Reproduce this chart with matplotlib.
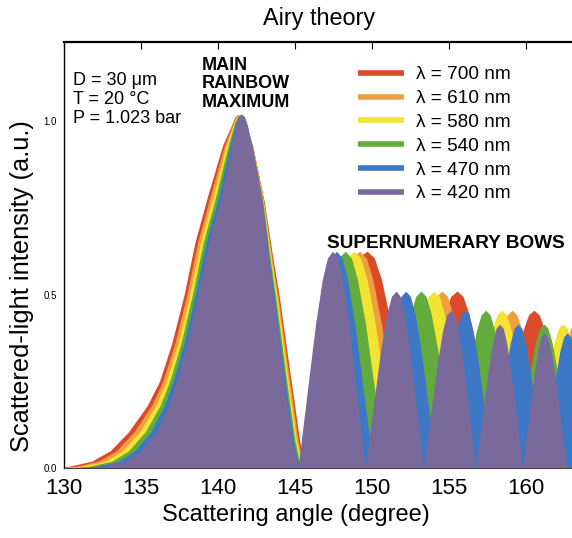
import matplotlib.pyplot as plt
from matplotlib.lines import Line2D

plt.rcParams["font.family"] = ["Liberation Sans", "DejaVu Sans"]

# Intensity (a.u.): main lobe rising, main lobe falling,
# then five supernumerary lobes (flank, flank, shoulder, shoulder, peak, ..., zero)
intensity = [
    0.0, 0.005, 0.02, 0.05, 0.105, 0.18, 0.25, 0.36, 0.5, 0.65, 0.78, 0.93, 0.99, 1.012, 1.02,
    1.012, 0.99, 0.93, 0.77, 0.61, 0.49, 0.33, 0.19, 0.08, 0.0,
    0.206, 0.413, 0.544, 0.606, 0.625, 0.606, 0.544, 0.413, 0.206, 0.0,
    0.168, 0.337, 0.444, 0.495, 0.51, 0.495, 0.444, 0.337, 0.168, 0.0,
    0.150, 0.300, 0.396, 0.441, 0.455, 0.441, 0.396, 0.300, 0.150, 0.0,
    0.137, 0.274, 0.361, 0.403, 0.415, 0.403, 0.361, 0.274, 0.137, 0.0,
    0.129, 0.257, 0.339, 0.378, 0.39, 0.378, 0.339, 0.257, 0.129, 0.0,
]

# Scattering angle (degree) of those points, one list per wavelength
angle_700 = [
    129.0, 130.3, 131.8, 133.0, 134.2, 135.4, 136.2, 137.0, 137.8, 138.5, 139.3, 140.3, 140.9, 141.1, 141.3,
    141.48, 141.75, 142.25, 143.0, 143.55, 144.0, 144.5, 144.95, 145.3, 145.65,
    146.66, 147.67, 148.47, 149.08, 149.68, 150.15, 150.62, 151.25, 152.03, 152.81,
    153.49, 154.17, 154.71, 155.12, 155.53, 155.92, 156.31, 156.84, 157.49, 158.14,
    158.74, 159.34, 159.81, 160.17, 160.53, 160.88, 161.23, 161.69, 162.27, 162.85,
    163.39,
]
angle_610 = [
    129.4, 130.74, 132.24, 133.4, 134.56, 135.68, 136.42, 137.2, 137.98, 138.68, 139.48, 140.42, 140.95, 141.15, 141.35,
    141.53, 141.78, 142.24, 142.97, 143.49, 143.92, 144.41, 144.85, 145.2, 145.56,
    146.47, 147.38, 148.11, 148.65, 149.2, 149.63, 150.06, 150.63, 151.35, 152.06,
    152.68, 153.31, 153.8, 154.18, 154.55, 154.91, 155.26, 155.74, 156.34, 156.93,
    157.48, 158.02, 158.46, 158.78, 159.11, 159.43, 159.75, 160.18, 160.71, 161.24,
    161.74, 162.23, 162.63, 162.92, 163.22,
]
angle_580 = [
    129.8, 131.18, 132.68, 133.8, 134.92, 135.96, 136.64, 137.4, 138.16, 138.86, 139.66, 140.54, 141.0, 141.2, 141.4,
    141.58, 141.81, 142.23, 142.94, 143.43, 143.84, 144.32, 144.75, 145.1, 145.47,
    146.32, 147.16, 147.84, 148.34, 148.85, 149.26, 149.68, 150.23, 150.92, 151.61,
    152.21, 152.82, 153.3, 153.66, 154.02, 154.37, 154.71, 155.17, 155.75, 156.32,
    156.85, 157.38, 157.8, 158.12, 158.44, 158.75, 159.06, 159.47, 159.98, 160.49,
    160.97, 161.45, 161.83, 162.12, 162.41, 162.69, 162.98, 163.36,
]
angle_540 = [
    130.2, 131.62, 133.12, 134.2, 135.28, 136.24, 136.86, 137.6, 138.34, 139.04, 139.84, 140.66, 141.05, 141.25, 141.45,
    141.63, 141.84, 142.22, 142.91, 143.37, 143.76, 144.23, 144.65, 145.0, 145.38,
    146.1, 146.83, 147.4, 147.84, 148.27, 148.66, 149.06, 149.59, 150.24, 150.9,
    151.47, 152.05, 152.5, 152.85, 153.19, 153.52, 153.85, 154.29, 154.83, 155.38,
    155.88, 156.39, 156.79, 157.09, 157.39, 157.68, 157.98, 158.37, 158.85, 159.34,
    159.8, 160.26, 160.62, 160.9, 161.17, 161.44, 161.71, 162.07, 162.51, 162.96,
    163.39,
]
angle_470 = [
    130.6, 132.06, 133.56, 134.6, 135.64, 136.52, 137.08, 137.8, 138.52, 139.22, 140.02, 140.78, 141.1, 141.3, 141.5,
    141.68, 141.87, 142.21, 142.88, 143.31, 143.68, 144.14, 144.55, 144.9, 145.29,
    145.89, 146.5, 146.98, 147.34, 147.7, 148.06, 148.42, 148.9, 149.5, 150.1,
    150.63, 151.15, 151.57, 151.89, 152.2, 152.5, 152.8, 153.2, 153.7, 154.2,
    154.66, 155.12, 155.49, 155.76, 156.04, 156.31, 156.57, 156.93, 157.38, 157.82,
    158.24, 158.66, 158.99, 159.24, 159.49, 159.74, 159.98, 160.31, 160.72, 161.13,
    161.52, 161.91, 162.22, 162.46, 162.69, 162.92, 163.15, 163.45, 163.84, 164.22,
]
angle_420 = [
    131.0, 132.5, 134.0, 135.0, 136.0, 136.8, 137.3, 138.0, 138.7, 139.4, 140.2, 140.9, 141.15, 141.35, 141.55,
    141.73, 141.9, 142.2, 142.85, 143.25, 143.6, 144.05, 144.45, 144.8, 145.2,
    145.76, 146.33, 146.78, 147.11, 147.45, 147.77, 148.08, 148.5, 149.03, 149.55,
    150.06, 150.56, 150.96, 151.27, 151.57, 151.84, 152.1, 152.46, 152.91, 153.35,
    153.79, 154.24, 154.59, 154.85, 155.12, 155.36, 155.61, 155.94, 156.34, 156.75,
    157.14, 157.53, 157.84, 158.07, 158.3, 158.53, 158.75, 159.05, 159.43, 159.8,
    160.15, 160.5, 160.78, 160.99, 161.2, 161.42, 161.64, 161.93, 162.29, 162.65,
]

wavelengths = ["700", "610", "580", "540", "470", "420"]
angles = [angle_700, angle_610, angle_580, angle_540, angle_470, angle_420]
colors = ["#dc4a2c", "#efa03e", "#f3e432", "#62ab3c", "#3c78c6", "#7a6a9c"]
x_ticks = [130, 135, 140, 145, 150, 155, 160]
y_ticks = [0.0, 0.5, 1.0]


def plot_rainbow():
    fig = plt.figure(figsize=(5.72, 5.38), dpi=100)
    ax = fig.add_axes([0.112, 0.130, 0.888, 0.792])

    # red first, violet last so the short wavelengths sit on top
    handles = []
    for wl, ang, col in zip(wavelengths, angles, colors):
        ax.fill_between(ang, 0, intensity[: len(ang)], color=col, linewidth=0)
        handles.append(Line2D([], [], color=col, linewidth=4, solid_capstyle="butt",
                              label="λ = " + wl + " nm"))

    ax.set_xlim(130, 163)
    ax.set_ylim(0, 1.228)
    ax.set_xticks(x_ticks)
    ax.set_yticks(y_ticks)
    ax.set_yticklabels(["0.0", "0.5", "1.0"], fontsize=7)
    ax.tick_params(axis="x", labelsize=16, bottom=False, top=True,
                   direction="in", length=5, pad=7)
    ax.tick_params(axis="y", length=0, pad=5)

    ax.spines["right"].set_visible(False)
    ax.spines["top"].set_linewidth(1.6)
    ax.spines["left"].set_linewidth(1.0)
    ax.spines["bottom"].set_color("#444444")

    fig.text(0.517, 0.043, "Scattering angle (degree)", fontsize=17,
             ha="center", va="center")
    fig.text(0.038, 0.468, "Scattered-light intensity (a.u.)", fontsize=18.3,
             ha="center", va="center", rotation=90)
    fig.text(0.557, 0.965, "Airy theory", fontsize=16.8, ha="center", va="center")

    # conditions of the computation
    ax.text(130.6, 1.118, "D = 30 μm", fontsize=13, va="center")
    ax.text(130.6, 1.063, "T = 20 °C", fontsize=13, va="center")
    ax.text(130.6, 1.008, "P = 1.023 bar", fontsize=13, va="center")

    ax.text(138.95, 1.161, "MAIN", fontsize=13, fontweight="bold", va="center")
    ax.text(138.95, 1.108, "RAINBOW", fontsize=13, fontweight="bold", va="center")
    ax.text(138.95, 1.054, "MAXIMUM", fontsize=13, fontweight="bold", va="center")
    ax.text(147.1, 0.648, "SUPERNUMERARY BOWS", fontsize=13.7, fontweight="bold",
            va="center")

    ax.legend(handles=handles, loc="upper left", bbox_to_anchor=(0.626, 0.877),
              bbox_transform=fig.transFigure, frameon=False, fontsize=13.7,
              handlelength=2.4, handletextpad=0.62, labelspacing=0.34,
              borderpad=0, borderaxespad=0)

    fig.savefig("out.png", dpi=100)


if __name__ == "__main__":
    plot_rainbow()
